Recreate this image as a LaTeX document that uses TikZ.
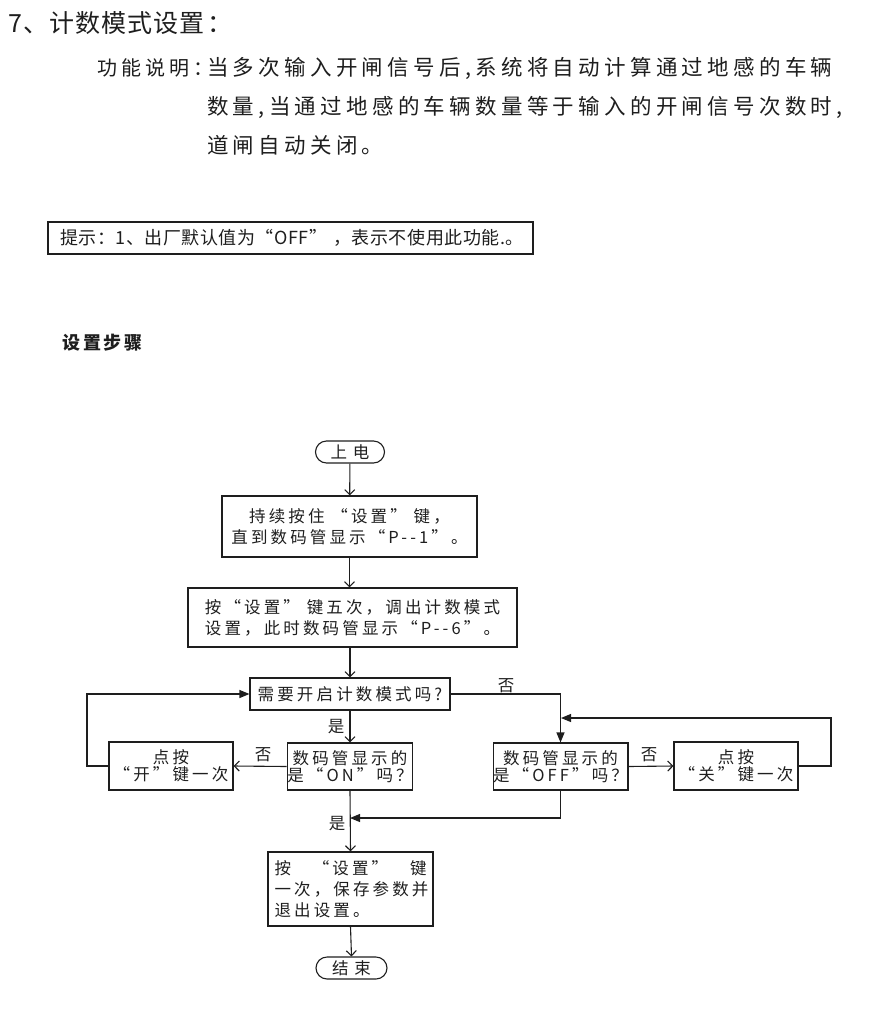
\documentclass[tikz,border=0pt]{standalone}
\usepackage{fontspec}
\setmainfont{Noto Sans CJK SC}
\usetikzlibrary{arrows.meta}
\newfontfamily\titlefont[LetterSpace=4]{Noto Sans CJK SC}
\newfontfamily\descfont[LetterSpace=20]{Noto Sans CJK SC}
\newfontfamily\fcfont[LetterSpace=19]{Noto Sans CJK SC}
\newfontfamily\hintfont[LetterSpace=3]{Noto Sans CJK SC}
\newfontfamily\stepfont[LetterSpace=16]{Noto Sans CJK SC}
\definecolor{ink}{HTML}{1E1E1E}
\begin{document}
\begin{tikzpicture}[x=1pt,y=-1pt,
  every node/.style={text=ink},
  txt/.style={inner sep=0pt,anchor=west},
  fc/.style={font=\fcfont\fontsize{16.5}{21}\selectfont},
  boxn/.style={draw=ink,line width=1.1pt,fc,align=center,inner sep=0pt},
  term/.style={draw=ink,line width=1.1pt,fc,rounded corners=11pt,inner sep=0pt,minimum height=22pt},
  lab/.style={fc,inner sep=0pt},
  conn/.style={draw=ink,line width=1.1pt},
  oa/.style={conn,-{Straight Barb[length=5pt,width=10pt,line width=1.1pt]}},
  fa/.style={conn,-{Triangle[length=10pt,width=8pt]}}]
\useasboundingbox (0,0) rectangle (895,1010);

% title and description
\node[txt,font=\titlefont\fontsize{25}{28}\selectfont] (title) at (8,23) {7、计数模式设置\hspace{3pt}：};
\node[txt,font=\descfont\fontsize{20}{24}\selectfont] (fn) at (97,68) {功能说明：};
\node[txt,font=\descfont\fontsize{21.5}{24}\selectfont] (d1) at (207,68) {当多次输入开闸信号后,系统将自动计算通过地感的车辆};
\node[txt,font=\descfont\fontsize{21.5}{24}\selectfont] (d2) at (207,107) {数量,当通过地感的车辆数量等于输入的开闸信号次数时,};
\node[txt,font=\descfont\fontsize{21.5}{24}\selectfont] (d3) at (207,145) {道闸自动关闭。};

% hint box
\node[draw=ink,line width=1.6pt,minimum width=485pt,minimum height=32pt,text width=461pt,inner xsep=12pt,inner ysep=0pt,align=left,
  font=\hintfont\fontsize{18}{20}\selectfont] (hint) at (290.5,238) {\mbox{提示：1、出厂默认值为“OFF” ，表示不使用此功能.。}};

\node[txt,font=\stepfont\bfseries\fontsize{18}{20}\selectfont] (steps) at (62,343) {设置步骤};

% flowchart
\node[term,minimum width=69pt] (start) at (350,452) {上\hspace{6pt}电};
\node[boxn,minimum width=255pt,minimum height=61pt] (b1) at (349.5,526.5) {持续按住 “设置” 键，\\直到数码管显示“P--1”。};
\node[boxn,minimum width=329pt,minimum height=59pt] (b2) at (352.5,617.5) {按“设置” 键五次，调出计数模式\\设置，此时数码管显示“P--6”。};
\node[boxn,minimum width=200pt,minimum height=32pt] (q1) at (350,694) {需要开启计数模式吗?};
\node[boxn,minimum width=125pt,minimum height=47pt,font=\fcfont\fontsize{16.5}{17}\selectfont] (on) at (350,766.5) {数码管显示的\\是“ON”吗？};
\node[boxn,minimum width=124pt,minimum height=48pt,font=\fcfont\fontsize{16.5}{17}\selectfont] (kai) at (171,766) {点按\\“开”键一次};
\node[boxn,minimum width=129pt,minimum height=47pt,font=\fcfont\fontsize{16.5}{17}\selectfont] (off) at (560.5,766.5) {数码管显示的\\是“OFF”吗？};
\node[boxn,minimum width=124pt,minimum height=48pt,font=\fcfont\fontsize{16.5}{17}\selectfont] (guan) at (736,766) {点按\\“关”键一次};
\node[boxn,minimum width=165pt,minimum height=74pt,text width=152pt,align=left] (fin) at (350.5,889)
  {\makebox[152pt][s]{按\hfill{}“设置”\hfill{}键}\\一次，保存参数并\\退出设置。};
\node[term,minimum width=71pt] (end) at (351.5,968) {结\hspace{6pt}束};

\coordinate (ltop) at (87,694);
\coordinate (rtop) at (831,718);
\coordinate (lp) at (561,718);
\coordinate (jn) at (350,818);

\draw[oa] (start) -- (b1);
\draw[oa] (b1.south) -- (b1.south |- b2.north);
\draw[oa] (b2.south -| q1.south) -- (q1.north);
\draw[oa] (q1.south) -- (on.north);
\draw[oa] (on.west) -- (kai.east);
\draw[fa] (kai.west) -| (ltop) -- (q1.west);
\draw[fa] (q1.east) -| (off.north);
\draw[oa] (off.east) -- (guan.west);
\draw[fa] (guan.east) -| (rtop) -- (lp);
\draw[fa] (off.south) |- (jn);
\draw[oa] (on.south) -- (fin.north);
\draw[oa] (fin.south) -- (end.north);

\node[lab] (l1) at (336,727) {是};
\node[lab] (l2) at (263,755) {否};
\node[lab] (l3) at (506,686) {否};
\node[lab] (l4) at (649,755) {否};
\node[lab] (l5) at (337,824) {是};
\end{tikzpicture}
\end{document}
